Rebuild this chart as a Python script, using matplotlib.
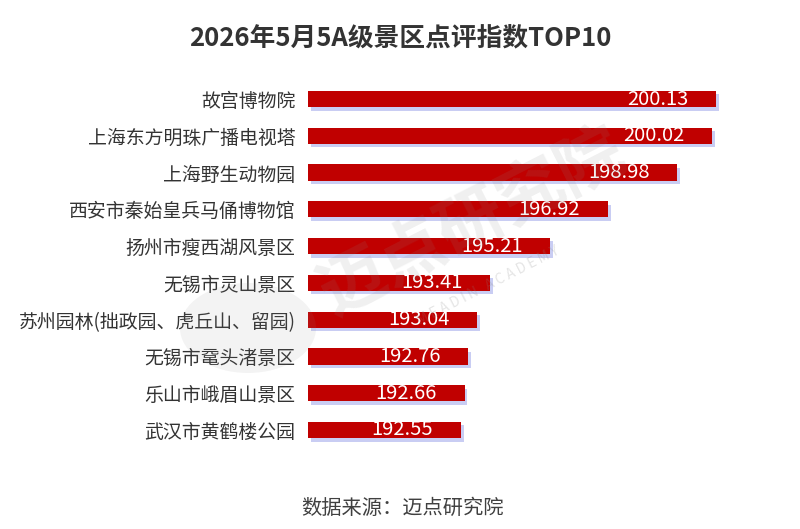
import matplotlib
matplotlib.use("Agg")
import matplotlib.pyplot as plt
import matplotlib.patheffects as pe
from matplotlib.patches import Circle

plt.rcParams['font.family'] = ['Noto Sans CJK SC', 'DejaVu Sans']

# data, top to bottom
spots = ['故宫博物院', '上海东方明珠广播电视塔', '上海野生动物园', '西安市秦始皇兵马俑博物馆',
         '扬州市瘦西湖风景区', '无锡市灵山景区', '苏州园林(拙政园、虎丘山、留园)',
         '无锡市鼋头渚景区', '乐山市峨眉山景区', '武汉市黄鹤楼公园']
scores = [200.13, 200.02, 198.98, 196.92, 195.21, 193.41, 193.04, 192.76, 192.66, 192.55]

title = '2026年5月5A级景区点评指数TOP10'
source = '数据来源：迈点研究院'

fig = plt.figure(figsize=(8, 5.29), dpi=100)
fig.patch.set_facecolor('white')

# watermark
fig.patches.append(Circle((0.31, 0.38), 0.085, transform=fig.transFigure,
                          facecolor='#8a8a8a', alpha=0.10, edgecolor='none', zorder=0))
fig.text(0.59, 0.58, '迈点研究院', fontsize=48, fontweight='bold', color='#8a8a8a',
         alpha=0.13, rotation=27, ha='center', va='center', zorder=0)
fig.text(0.61, 0.46, 'M E A D I N   A C A D E M Y', fontsize=10, color='#8a8a8a',
         alpha=0.22, rotation=27, ha='center', va='center', zorder=0)

ax = fig.add_axes([0.385, 0.1524, 0.517, 0.6952])
ax.patch.set_alpha(0)

y = list(range(len(spots)))
bars = ax.barh(y, [s - 188 for s in scores], left=188, height=0.44,
               color='#C00000', zorder=3)
for b in bars:
    b.set_path_effects([pe.SimplePatchShadow(offset=(2, -2.5), shadow_rgbFace='#b3b9ee',
                                             alpha=0.7), pe.Normal()])

for yi, s in zip(y, scores):
    ax.annotate(f'{s:.2f}', xy=(s, yi), xytext=(-20, 0), textcoords='offset points',
                ha='right', va='center', color='white', fontsize=14.5, zorder=4)

ax.set_xlim(188, 200.3)
ax.set_ylim(len(spots) - 0.5, -0.5)
ax.set_yticks(y)
ax.set_yticklabels(spots, fontsize=13.6, color='#333333')
ax.tick_params(axis='y', length=0, pad=9)
ax.set_xticks([])
for sp in ax.spines.values():
    sp.set_visible(False)

fig.text(0.5, 0.928, title, fontsize=18.5, fontweight='bold', color='#333333',
         ha='center', va='center')
fig.text(0.503, 0.038, source, fontsize=14.6, color='#404040', ha='center', va='center')

fig.savefig('out.png', dpi=100, facecolor='white')
